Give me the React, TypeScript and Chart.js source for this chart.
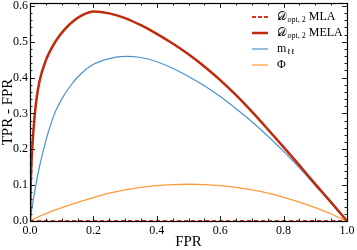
import React, { useEffect, useRef } from "react";
import { Chart, registerables } from "chart.js";

Chart.register(...registerables);

// ---- data ----
const fprMla = [0, 0.25, 0.5, 0.75, 1.0];
const valMla = [0, 0, 0, 0, 0];

const fprMela = [0, 0.002, 0.005, 0.009, 0.0136, 0.019, 0.03, 0.05, 0.08, 0.11, 0.14, 0.17, 0.2, 0.25, 0.3, 0.35, 0.4, 0.45, 0.5, 0.55, 0.6, 0.65, 0.7, 0.75, 0.8, 0.85, 0.9, 0.95, 1.0];
const valMela = [0, 0.09, 0.17, 0.23, 0.282, 0.33, 0.39, 0.448, 0.5, 0.535, 0.56, 0.576, 0.584, 0.579, 0.566, 0.546, 0.522, 0.495, 0.465, 0.431, 0.393, 0.351, 0.305, 0.256, 0.206, 0.155, 0.103, 0.052, 0];

const fprMll = [0, 0.005, 0.01, 0.02, 0.03, 0.05, 0.065, 0.08, 0.1, 0.13, 0.16, 0.2, 0.25, 0.3, 0.35, 0.4, 0.45, 0.5, 0.55, 0.6, 0.65, 0.7, 0.75, 0.8, 0.85, 0.9, 0.95, 1.0];
const valMll = [0, 0.03, 0.057, 0.108, 0.152, 0.224, 0.268, 0.305, 0.34, 0.38, 0.41, 0.437, 0.453, 0.459, 0.456, 0.444, 0.426, 0.403, 0.377, 0.347, 0.313, 0.277, 0.237, 0.194, 0.148, 0.099, 0.05, 0];

const fprPhi = [0, 0.02, 0.05, 0.1, 0.15, 0.2, 0.25, 0.3, 0.35, 0.4, 0.45, 0.5, 0.55, 0.6, 0.65, 0.7, 0.75, 0.8, 0.85, 0.9, 0.95, 1.0];
const valPhi = [0, 0.009, 0.0205, 0.037, 0.052, 0.0655, 0.0775, 0.0865, 0.0935, 0.0985, 0.1015, 0.1025, 0.1015, 0.0985, 0.0935, 0.0865, 0.0775, 0.066, 0.0525, 0.037, 0.0195, 0];

const xTicks = [0, 0.2, 0.4, 0.6, 0.8, 1.0];
const yTicks = [0, 0.1, 0.2, 0.3, 0.4, 0.5, 0.6];
const xMinorTicks = [0.05, 0.1, 0.15, 0.25, 0.3, 0.35, 0.45, 0.5, 0.55, 0.65, 0.7, 0.75, 0.85, 0.9, 0.95];
const yMinorTicks = [0.02, 0.04, 0.06, 0.08, 0.12, 0.14, 0.16, 0.18, 0.22, 0.24, 0.26, 0.28, 0.32, 0.34, 0.36, 0.38, 0.42, 0.44, 0.46, 0.48, 0.52, 0.54, 0.56, 0.58];

const legendMain = ["\u{1D49F}", "\u{1D49F}", "m", "\u03A6"];
const legendSub = ["opt, 2", "opt, 2", "\u2113\u2113", ""];
const legendTail = [" MLA", " MELA", "", ""];

const colMla = "#e0301e";
const colMela = "#c02a0c";
const colMll = "#4b92cc";
const colPhi = "#ff9a3a";

const SERIF = "'Liberation Serif', 'DejaVu Serif', 'DejaVu Sans', serif";

const framePlugin = {
  id: "frameTicks",
  afterDatasetsDraw(chart: any) {
    const ctx = chart.ctx;
    const { left, right, top, bottom } = chart.chartArea;
    const xs = chart.scales.x;
    const ys = chart.scales.y;
    ctx.save();
    ctx.strokeStyle = "#222";
    ctx.lineWidth = 1;
    const tick = (x1: number, y1: number, x2: number, y2: number) => {
      ctx.beginPath();
      ctx.moveTo(x1, y1);
      ctx.lineTo(x2, y2);
      ctx.stroke();
    };
    for (const v of xTicks) {
      const p = Math.round(xs.getPixelForValue(v)) + 0.5;
      tick(p, bottom, p, bottom - 5);
      tick(p, top, p, top + 5);
    }
    for (const v of xMinorTicks) {
      const p = Math.round(xs.getPixelForValue(v)) + 0.5;
      tick(p, bottom, p, bottom - 2.5);
      tick(p, top, p, top + 2.5);
    }
    for (const v of yTicks) {
      const p = Math.round(ys.getPixelForValue(v)) + 0.5;
      tick(left, p, left + 5, p);
      tick(right, p, right - 5, p);
    }
    for (const v of yMinorTicks) {
      const p = Math.round(ys.getPixelForValue(v)) + 0.5;
      tick(left, p, left + 2.5, p);
      tick(right, p, right - 2.5, p);
    }
    ctx.strokeStyle = "#000";
    ctx.lineWidth = 1.2;
    ctx.strokeRect(left + 0.5, top + 0.5, right - left, bottom - top);
    ctx.restore();
  },
  afterDraw(chart: any) {
    const ctx = chart.ctx;
    const colors = [colMla, colMela, colMll, colPhi];
    const widths = [2, 2.5, 1.2, 2];
    const dashes = [[4, 2], [], [], []];
    const rows = [17, 33, 49, 65];
    ctx.save();
    for (let i = 0; i < 4; i++) {
      const y = rows[i];
      ctx.beginPath();
      ctx.strokeStyle = i === 3 ? "#ffc384" : colors[i];
      ctx.lineWidth = widths[i];
      ctx.setLineDash(dashes[i]);
      ctx.moveTo(252, y);
      ctx.lineTo(268, y);
      ctx.stroke();
      ctx.setLineDash([]);
      ctx.fillStyle = "#000";
      ctx.textBaseline = "middle";
      ctx.textAlign = "left";
      let x = 277;
      ctx.font = `12px ${SERIF}`;
      ctx.fillText(legendMain[i], x, y);
      x += ctx.measureText(legendMain[i]).width;
      if (legendSub[i]) {
        ctx.font = `8px ${SERIF}`;
        ctx.fillText(legendSub[i], x + 0.5, y + 3);
        x += ctx.measureText(legendSub[i]).width + 0.5;
      }
      if (legendTail[i]) {
        ctx.font = `12px ${SERIF}`;
        ctx.fillText(legendTail[i], x, y);
      }
    }
    ctx.restore();
  },
};

const mk = (xs: number[], ys: number[]) => xs.map((x, i) => ({ x, y: ys[i] }));

export default function App() {
  const ref = useRef<HTMLCanvasElement | null>(null);
  useEffect(() => {
    if (!ref.current) return;
    const chart = new Chart(ref.current, {
      type: "line",
      data: {
        datasets: [
          { label: "MLA", data: mk(fprMla, valMla), borderColor: colMla, borderWidth: 2, borderDash: [4, 3], pointRadius: 0 },
          { label: "MELA", data: mk(fprMela, valMela), borderColor: colMela, borderWidth: 2.5, pointRadius: 0, cubicInterpolationMode: "monotone" },
          { label: "mll", data: mk(fprMll, valMll), borderColor: colMll, borderWidth: 1.2, pointRadius: 0, cubicInterpolationMode: "monotone" },
          { label: "Phi", data: mk(fprPhi, valPhi), borderColor: colPhi, borderWidth: 1.3, pointRadius: 0, cubicInterpolationMode: "monotone" },
        ],
      },
      options: {
        animation: false,
        responsive: false,
        maintainAspectRatio: false,
        devicePixelRatio: 1,
        layout: { padding: { left: 0, right: 10, top: 3, bottom: 0 } },
        plugins: { legend: { display: false }, tooltip: { enabled: false } },
        scales: {
          x: {
            type: "linear",
            min: 0,
            max: 1,
            grid: { display: false, drawTicks: false },
            border: { display: false },
            ticks: {
              padding: 3,
              color: "#000",
              font: { family: SERIF, size: 12 },
              callback: (v: any) => Number(v).toFixed(1),
            },
            afterBuildTicks: (s: any) => {
              s.ticks = xTicks.map((v) => ({ value: v }));
            },
            afterFit: (s: any) => {
              s.height = 29;
              s.paddingLeft = 0;
              s.paddingRight = 0;
            },
            title: { display: true, text: "FPR", color: "#000", font: { family: SERIF, size: 15 }, padding: { top: 0, bottom: -1 } },
          },
          y: {
            type: "linear",
            min: 0,
            max: 0.608,
            grid: { display: false, drawTicks: false },
            border: { display: false },
            ticks: {
              padding: 2,
              color: "#000",
              font: { family: SERIF, size: 12 },
              callback: (v: any) => Number(v).toFixed(1),
            },
            afterBuildTicks: (s: any) => {
              s.ticks = yTicks.map((v) => ({ value: v }));
            },
            afterFit: (s: any) => {
              s.width = 30;
              s.paddingTop = 0;
              s.paddingBottom = 0;
            },
            title: { display: true, text: "TPR - FPR", color: "#000", font: { family: SERIF, size: 15 }, padding: { top: -1, bottom: 0 } },
          },
        },
      },
      plugins: [framePlugin],
    });
    return () => chart.destroy();
  }, []);
  return (
    <div style={{ position: "absolute", left: 0, top: 0, width: 357, height: 250, background: "#fff" }}>
      <canvas ref={ref} width={357} height={250} style={{ display: "block" }} />
    </div>
  );
}
